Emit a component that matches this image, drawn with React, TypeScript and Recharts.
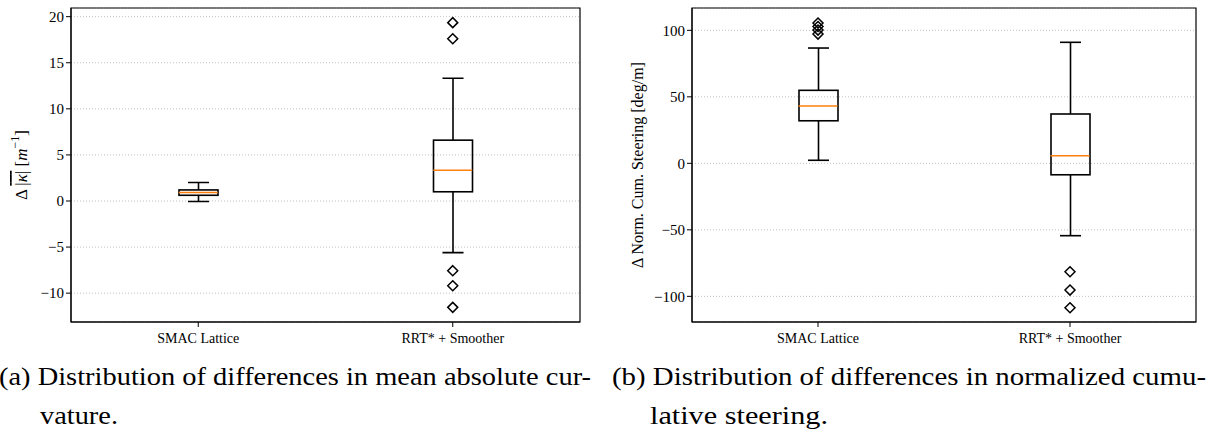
import { ComposedChart, Bar, Scatter, XAxis, YAxis, CartesianGrid, ReferenceArea, Label } from 'recharts'

const categories = ['SMAC Lattice', 'RRT* + Smoother']

// Δ mean absolute curvature [1/m]
const curvLow = [-0.05, -5.6]
const curvQ1 = [0.62, 1.0]
const curvMedian = [0.92, 3.33]
const curvQ3 = [1.2, 6.6]
const curvHigh = [2.0, 13.32]
const curvOutliers: number[][] = [[], [19.35, 17.6, -7.56, -9.19, -11.54]]
const curvTicks = [-10, -5, 0, 5, 10, 15, 20]
const curvDomain: [number, number] = [-13.13, 20.94]

// Δ normalized cumulative steering [deg/m]
const steerLow = [2.3, -54.4]
const steerQ1 = [32.0, -8.6]
const steerMedian = [43.1, 5.7]
const steerQ3 = [54.9, 37.1]
const steerHigh = [86.7, 91.0]
const steerOutliers: number[][] = [[105.5, 102.9, 100.2, 97.2], [-81.5, -95.3, -108.6]]
const steerTicks = [-100, -50, 0, 50, 100]
const steerDomain: [number, number] = [-119.3, 116.8]

const MAX_OUTLIERS = 5
const outlierKeys = Array.from({ length: MAX_OUTLIERS }, (_, k) => `out${k}`)

const SERIF = 'Liberation Serif, Tinos, Times New Roman, DejaVu Serif, serif'

type Row = Record<string, unknown>

function buildRows(
  low: number[],
  q1: number[],
  med: number[],
  q3: number[],
  high: number[],
  outliers: number[][]
): Row[] {
  return categories.map((name, i) => {
    const row: Row = {
      name,
      lower: [low[i], q1[i]],
      box: [q1[i], q3[i]],
      upper: [q3[i], high[i]],
      median: med[i],
    }
    outliers[i].forEach((v, k) => {
      row[`out${k}`] = v
    })
    return row
  })
}

const curvRows = buildRows(curvLow, curvQ1, curvMedian, curvQ3, curvHigh, curvOutliers)
const steerRows = buildRows(steerLow, steerQ1, steerMedian, steerQ3, steerHigh, steerOutliers)

const fmtTick = (v: number) => String(v).replace('-', '\u2212')

// whisker line with a cap at one end
const whiskerShape = (cap: 'top' | 'bottom') => (props: any) => {
  const { x, y, width, height } = props
  if (![x, y, width, height].every(Number.isFinite)) return <g />
  const cx = x + width / 2
  const top = Math.min(y, y + height)
  const bot = Math.max(y, y + height)
  const cy = cap === 'top' ? top : bot
  const half = width * 0.27
  return (
    <g stroke="#000" strokeWidth={1.6}>
      <line x1={cx} x2={cx} y1={top} y2={bot} />
      <line x1={cx - half} x2={cx + half} y1={cy} y2={cy} />
    </g>
  )
}

const boxShape = (props: any) => {
  const { x, y, width, height } = props
  if (![x, y, width, height].every(Number.isFinite)) return <g />
  return (
    <rect
      x={x}
      y={Math.min(y, y + height)}
      width={width}
      height={Math.abs(height)}
      fill="none"
      stroke="#000"
      strokeWidth={1.6}
    />
  )
}

const medianShape = (props: any) => {
  const { cx, cy } = props
  if (!Number.isFinite(cx) || !Number.isFinite(cy)) return <g />
  return <line x1={cx - 19.5} x2={cx + 19.5} y1={cy} y2={cy} stroke="#ff7f0e" strokeWidth={1.6} />
}

const diamondShape = (key: string) => (props: any) => {
  const { cx, cy, payload } = props
  if (payload?.[key] == null || !Number.isFinite(cx) || !Number.isFinite(cy)) return <g />
  const r = 5
  return (
    <path
      d={`M${cx},${cy - r}L${cx + r},${cy}L${cx},${cy + r}L${cx - r},${cy}Z`}
      fill="none"
      stroke="#000"
      strokeWidth={1.5}
    />
  )
}

const curvLabel = (props: any) => {
  const vb = props.viewBox ?? { x: 0, y: 0, width: 0, height: 0 }
  const x = vb.x + 21
  const y = vb.y + vb.height / 2
  return (
    <text
      x={x}
      y={y}
      transform={`rotate(-90, ${x}, ${y})`}
      textAnchor="middle"
      dominantBaseline="central"
      style={{ fontFamily: SERIF, fontSize: 17 }}
      fill="#000"
    >
      <tspan>Δ </tspan>
      <tspan style={{ textDecoration: 'overline' }}>
        |<tspan fontStyle="italic">κ</tspan>|
      </tspan>
      <tspan> [</tspan>
      <tspan fontStyle="italic">m</tspan>
      <tspan dy={-6} style={{ fontSize: 12 }}>−1</tspan>
      <tspan dy={6}>]</tspan>
    </text>
  )
}

const steerLabel = (props: any) => {
  const vb = props.viewBox ?? { x: 0, y: 0, width: 0, height: 0 }
  const x = vb.x + 37
  const y = vb.y + vb.height / 2
  return (
    <text
      x={x}
      y={y}
      transform={`rotate(-90, ${x}, ${y})`}
      textAnchor="middle"
      dominantBaseline="central"
      style={{ fontFamily: SERIF, fontSize: 16 }}
      fill="#000"
    >
      Δ Norm. Cum. Steering [deg/m]
    </text>
  )
}

interface BoxPanelProps {
  rows: Row[]
  domain: [number, number]
  ticks: number[]
  axisWidth: number
  plotWidth: number
  width: number
  label: (props: any) => React.ReactElement
}

function BoxPanel({ rows, domain, ticks, axisWidth, plotWidth, width, label }: BoxPanelProps) {
  const outCount = Math.max(...rows.map((r) => outlierKeys.filter((k) => r[k] != null).length))
  return (
    <ComposedChart
      width={width}
      height={360}
      data={rows}
      margin={{ top: 8, right: width - axisWidth - plotWidth, left: 0, bottom: 8 }}
      barSize={39}
      barGap={-39}
      style={{ fontFamily: SERIF }}
    >
      <CartesianGrid vertical={false} stroke="#b0b0b0" strokeDasharray="1 2" strokeWidth={0.8} />
      <XAxis
        dataKey="name"
        interval={0}
        height={30}
        tickSize={5}
        tickLine={{ stroke: '#000' }}
        axisLine={{ stroke: '#000' }}
        tick={{ fontSize: 14, fill: '#000', style: { fontFamily: SERIF } }}
        tickMargin={6}
      />
      <YAxis
        type="number"
        domain={domain}
        ticks={ticks}
        allowDataOverflow
        width={axisWidth}
        tickSize={5}
        tickLine={{ stroke: '#000' }}
        axisLine={{ stroke: '#000' }}
        tick={{ fontSize: 15, fill: '#000', style: { fontFamily: SERIF } }}
        tickFormatter={fmtTick}
      >
        <Label content={label} />
      </YAxis>
      <ReferenceArea y1={domain[0]} y2={domain[1]} fill="none" stroke="#000" strokeWidth={1.2} ifOverflow="visible" />
      <Bar dataKey="lower" shape={whiskerShape('bottom')} isAnimationActive={false} />
      <Bar dataKey="upper" shape={whiskerShape('top')} isAnimationActive={false} />
      <Bar dataKey="box" shape={boxShape} isAnimationActive={false} />
      <Scatter dataKey="median" shape={medianShape} isAnimationActive={false} />
      {outlierKeys.slice(0, outCount).map((k) => (
        <Scatter key={k} dataKey={k} shape={diamondShape(k)} isAnimationActive={false} />
      ))}
    </ComposedChart>
  )
}

const captionStyle = { fontFamily: SERIF, fontSize: 26 }

export default function App() {
  return (
    <div
      style={{
        position: 'absolute',
        left: 0,
        top: 0,
        width: 1211,
        height: 437,
        background: '#fff',
        fontFamily: SERIF,
      }}
    >
      <div style={{ position: 'absolute', left: 0, top: 0 }}>
        <BoxPanel
          rows={curvRows}
          domain={curvDomain}
          ticks={curvTicks}
          axisWidth={71}
          plotWidth={509}
          width={600}
          label={curvLabel}
        />
      </div>
      <div style={{ position: 'absolute', left: 600, top: 0 }}>
        <BoxPanel
          rows={steerRows}
          domain={steerDomain}
          ticks={steerTicks}
          axisWidth={92}
          plotWidth={504}
          width={611}
          label={steerLabel}
        />
      </div>
      <svg width={1211} height={437} style={{ position: 'absolute', left: 0, top: 0, pointerEvents: 'none' }}>
        <text x={-1} y={385} textLength={592} lengthAdjust="spacingAndGlyphs" style={captionStyle} fill="#000">
          (a) Distribution of differences in mean absolute cur-
        </text>
        <text x={40} y={424} textLength={78} lengthAdjust="spacingAndGlyphs" style={captionStyle} fill="#000">
          vature.
        </text>
        <text x={612} y={385} textLength={594} lengthAdjust="spacingAndGlyphs" style={captionStyle} fill="#000">
          (b) Distribution of differences in normalized cumu-
        </text>
        <text x={650} y={424} textLength={178} lengthAdjust="spacingAndGlyphs" style={captionStyle} fill="#000">
          lative steering.
        </text>
      </svg>
    </div>
  )
}
